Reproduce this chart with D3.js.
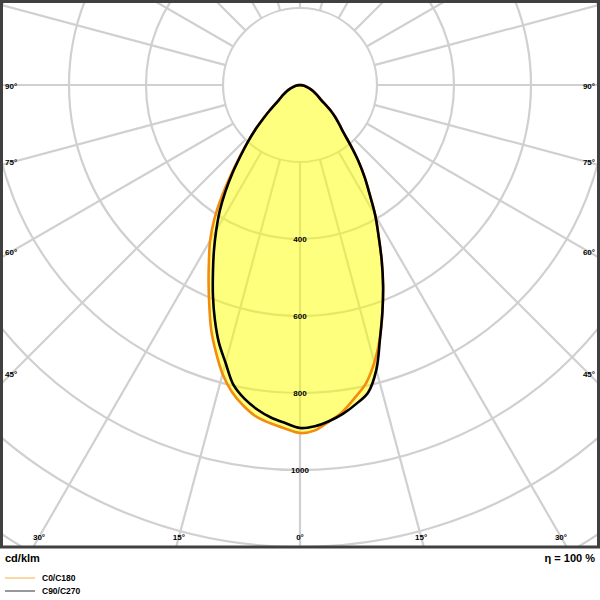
<!DOCTYPE html>
<html>
<head>
<meta charset="utf-8">
<script src="https://cdn.jsdelivr.net/npm/d3@7/dist/d3.min.js"></script>
<style>
  html, body { margin: 0; padding: 0; background: #fff; }
  svg { display: block; }
  text { font-family: "Liberation Sans", Arial, sans-serif; fill: #000; }
</style>
</head>
<body>
<svg id="chart" width="600" height="600"></svg>
<script>
// Gamma angles (degrees from nadir)
const ANGLES = [0, 2.5, 5, 7.5, 10, 12.5, 15, 17.5, 20, 22.5, 25, 27.5, 30, 32.5, 35, 37.5, 40, 42.5, 45, 47.5, 50, 55, 60, 65, 70, 75, 80, 85, 90];
// Luminous intensity, cd/klm (right half / left half of each plane pair)
const C0   = [904, 898, 877, 855, 824, 793, 746, 690, 626, 564, 502, 442, 391, 337, 293, 249, 204, 167, 144, 125, 105, 66, 50, 38, 27, 17, 9, 3, 0];
const C180 = [904, 893, 882, 869, 846, 817, 777, 727, 675, 616, 562, 512, 467, 415, 355, 295, 245, 201, 165, 130, 103, 66, 50, 38, 27, 17, 9, 3, 0];
const C90  = [892, 887, 876, 861, 841, 818, 766, 691, 626, 564, 502, 442, 391, 337, 293, 249, 204, 167, 144, 125, 105, 66, 50, 38, 27, 17, 9, 3, 0];
const C270 = [891, 879, 867, 850, 828, 798, 747, 701, 647, 591, 535, 484, 435, 388, 338, 288, 240, 201, 165, 130, 103, 66, 50, 38, 27, 17, 9, 3, 0];
// Grid
const RINGS = [200, 400, 600, 800, 1000, 1200, 1400, 1600];
const RING_LABELS = [400, 600, 800, 1000];
const SPOKES = d3.range(0, 360, 15);
const SIDE_ANGLE_LABELS = [90, 75, 60, 45];
const BOTTOM_ANGLE_LABELS = [30, 15, 0];
const SERIES = [
  { name: "C0/C180", left: C180, right: C0, color: "#f28c0f", legend: "#f5b04a" },
  { name: "C90/C270", left: C270, right: C90, color: "#000000", legend: "#333333" }
];
const UNIT = "cd/klm";
const EFFICIENCY = "η = 100 %";

const box = { x0: 1.5, y0: 1.5, x1: 598.5, y1: 547 };
const cx = 300, cy = 85;
const r = d3.scaleLinear().domain([0, 200]).range([0, 77]);
const toRad = d => d * Math.PI / 180;

const svg = d3.select("#chart");
svg.append("defs").append("clipPath").attr("id", "clip")
  .append("rect").attr("x", box.x0).attr("y", box.y0)
  .attr("width", box.x1 - box.x0).attr("height", box.y1 - box.y0);

const plot = svg.append("g").attr("clip-path", "url(#clip)");
const g = plot.append("g").attr("transform", `translate(${cx},${cy})`);

const gridColor = "#d0d0d0";
g.selectAll("circle.ring").data(RINGS).join("circle")
  .attr("class", "ring").attr("r", d => r(d))
  .attr("fill", "none").attr("stroke", gridColor).attr("stroke-width", 2.2);
g.selectAll("line.spoke").data(SPOKES).join("line")
  .attr("class", "spoke")
  .attr("x1", d => r(RINGS[0]) * Math.sin(toRad(d)))
  .attr("y1", d => r(RINGS[0]) * Math.cos(toRad(d)))
  .attr("x2", d => r(2000) * Math.sin(toRad(d)))
  .attr("y2", d => r(2000) * Math.cos(toRad(d)))
  .attr("stroke", gridColor).attr("stroke-width", 2.2);

function pts(s) {
  const p = [];
  for (let i = ANGLES.length - 1; i >= 0; i--) p.push({ a: Math.PI + toRad(ANGLES[i]), r: r(s.left[i]) });
  for (let i = 1; i < ANGLES.length; i++) p.push({ a: Math.PI - toRad(ANGLES[i]), r: r(s.right[i]) });
  return p;
}
const radial = d3.lineRadial().angle(d => d.a).radius(d => d.r).curve(d3.curveCatmullRom.alpha(0.5));

const fillG = g.append("g").attr("opacity", 0.5);
SERIES.forEach(s => fillG.append("path").attr("d", radial(pts(s)) + "Z").attr("fill", "#ffff00"));
SERIES.forEach(s => g.append("path").attr("d", radial(pts(s)))
  .attr("fill", "none").attr("stroke", s.color).attr("stroke-width", 2.6)
  .attr("stroke-linejoin", "round"));

g.selectAll("text.rl").data(RING_LABELS).join("text")
  .attr("class", "rl").attr("x", 0).attr("y", d => r(d)).attr("dy", "0.35em")
  .attr("text-anchor", "middle").attr("font-size", 8).attr("font-weight", "bold")
  .text(d => d);

SIDE_ANGLE_LABELS.forEach(a => {
  const dx = cx - 11;
  const yy = a === 90 ? cy + 1 : cy + dx / Math.tan(toRad(a));
  svg.append("text").attr("x", 5).attr("y", yy).attr("dy", "0.35em")
    .attr("font-size", 8).attr("font-weight", "bold").text(a + "°");
  svg.append("text").attr("x", 595).attr("y", yy).attr("dy", "0.35em")
    .attr("text-anchor", "end").attr("font-size", 8).attr("font-weight", "bold").text(a + "°");
});
BOTTOM_ANGLE_LABELS.forEach(a => {
  const yy = 537;
  const off = (yy - cy) * Math.tan(toRad(a));
  [-1, 1].forEach(sg => {
    if (a === 0 && sg === 1) return;
    svg.append("text").attr("x", cx + sg * off).attr("y", yy).attr("dy", "0.35em")
      .attr("text-anchor", "middle").attr("font-size", 8).attr("font-weight", "bold").text(a + "°");
  });
});

svg.append("rect").attr("x", box.x0).attr("y", box.y0)
  .attr("width", box.x1 - box.x0).attr("height", box.y1 - box.y0)
  .attr("fill", "none").attr("stroke", "#404040").attr("stroke-width", 3);

svg.append("text").attr("x", 5).attr("y", 558).attr("dy", "0.35em")
  .attr("font-size", 11).attr("font-weight", "bold").text(UNIT);
svg.append("text").attr("x", 595).attr("y", 558).attr("dy", "0.35em")
  .attr("text-anchor", "end").attr("font-size", 11).attr("font-weight", "bold").text(EFFICIENCY);

SERIES.forEach((s, i) => {
  const y = 578 + i * 13;
  svg.append("line").attr("x1", 5).attr("x2", 35).attr("y1", y).attr("y2", y)
    .attr("stroke", s.legend).attr("stroke-width", 1);
  svg.append("text").attr("x", 42).attr("y", y).attr("dy", "0.35em")
    .attr("font-size", 8.5).attr("font-weight", "bold").text(s.name);
});
</script>
</body>
</html>
